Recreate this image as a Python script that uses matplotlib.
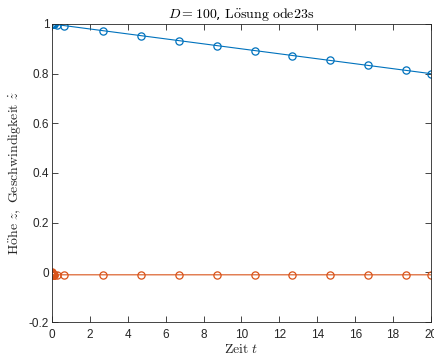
import matplotlib
matplotlib.use("Agg")
import matplotlib.pyplot as plt

t = [0.0, 0.0002, 0.0005, 0.001, 0.002, 0.004, 0.006, 0.01, 0.015, 0.02, 0.03, 0.04,
     0.05, 0.065, 0.08, 0.1, 0.12, 0.25, 0.66,
     2.69, 4.69, 6.69, 8.69, 10.69, 12.69, 14.69, 16.69, 18.69, 20.0]
z = [1.0, 1.0, 1.0, 1.0, 1.0, 0.99996, 0.99994, 0.9999, 0.99985, 0.9998, 0.9997, 0.9996,
     0.9995, 0.99935, 0.9992, 0.999, 0.9988, 0.9975, 0.9934,
     0.9731, 0.9531, 0.9331, 0.9131, 0.8931, 0.8731, 0.8531, 0.8331, 0.8131, 0.8]
v = [0.0, -0.001, -0.003, -0.005, -0.007, -0.009, -0.0095, -0.0099, -0.01, -0.01, -0.01, -0.01,
     -0.01, -0.01, -0.01, -0.01, -0.01, -0.01, -0.01,
     -0.01, -0.01, -0.01, -0.01, -0.01, -0.01, -0.01, -0.01, -0.01, -0.01]

xticks = [0, 2, 4, 6, 8, 10, 12, 14, 16, 18, 20]
yticks = [-0.2, 0, 0.2, 0.4, 0.6, 0.8, 1]
ytick_labels = ["-0.2", "0", "0.2", "0.4", "0.6", "0.8", "1"]

plt.rcParams['mathtext.fontset'] = 'cm'

fig = plt.figure(figsize=(4.35, 3.56), dpi=100)
ax = fig.add_axes([0.1195, 0.0955, 0.8713, 0.8371])

ax.plot(t, z, '-o', color='#0072BD', lw=0.8, ms=5.2, mfc='none', mew=0.9)
ax.plot(t, v, '-o', color='#D95319', lw=0.8, ms=5.2, mfc='none', mew=0.9)

ax.set_xlim(0, 20)
ax.set_ylim(-0.2, 1)
ax.set_xticks(xticks)
ax.set_xticklabels([str(x) for x in xticks])
ax.set_yticks(yticks)
ax.set_yticklabels(ytick_labels)

for lab in ax.get_xticklabels() + ax.get_yticklabels():
    lab.set_family('Liberation Sans')
    lab.set_fontsize(8.5)
    lab.set_color('#262626')

ax.tick_params(direction='in', length=4, width=0.6, colors='#262626',
               top=True, right=True)
ax.tick_params(axis='x', pad=5)
ax.tick_params(axis='y', pad=2)
for s in ax.spines.values():
    s.set_linewidth(0.6)
    s.set_color('#262626')

ax.set_title(r'$D=100$, $\mathrm{L\ddot{o}sung\ ode23s}$', fontsize=10,
             pad=4, color='black')
ax.set_xlabel(r'$\mathrm{Zeit}\ t$', fontsize=10, labelpad=1, color='#262626')
ax.set_ylabel(r'$\mathrm{H\ddot{o}he}\ z\mathrm{,\ Geschwindigkeit}\ \dot{z}$',
              fontsize=10, labelpad=4, color='#262626')

fig.savefig('out.png', dpi=100)
